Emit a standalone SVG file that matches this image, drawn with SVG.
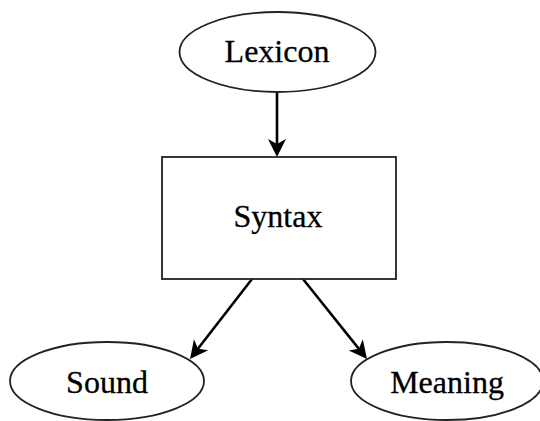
<svg xmlns="http://www.w3.org/2000/svg" width="540" height="421" viewBox="0 0 540 421">
  <style>
    .shape { fill: #ffffff; stroke: #222222; stroke-width: 1.8; }
    .label { font-family: "Liberation Serif", "Times New Roman", serif; font-size: 32px; fill: #000000; stroke: #000000; stroke-width: 0.3; text-anchor: middle; }
    .edge { stroke: #000000; stroke-width: 2.6; fill: none; marker-end: url(#arrow); }
  </style>
  <defs>
    <marker id="arrow" markerUnits="userSpaceOnUse" markerWidth="24" markerHeight="24" viewBox="-2 -12 24 24" refX="14" refY="0" orient="auto">
      <path d="M18,0 L0,-9 L5,0 L0,9 Z" fill="#000000"/>
    </marker>
  </defs>
  <rect width="540" height="421" fill="#ffffff"/>

  <g id="connectors">
    <line class="edge" x1="277" y1="93" x2="277" y2="153"/>
    <line class="edge" x1="252" y1="279" x2="192.5" y2="355.8"/>
    <line class="edge" x1="303" y1="279" x2="364.5" y2="355.9"/>
  </g>

  <g id="lexicon">
    <ellipse class="shape" cx="277.5" cy="52" rx="98" ry="40"/>
    <text class="label" x="277" y="62">Lexicon</text>
  </g>

  <g id="syntax">
    <rect class="shape" x="162" y="157" width="234" height="122"/>
    <text class="label" x="278" y="227">Syntax</text>
  </g>

  <g id="sound">
    <ellipse class="shape" cx="107" cy="381" rx="97" ry="39"/>
    <text class="label" x="107" y="393">Sound</text>
  </g>

  <g id="meaning">
    <ellipse class="shape" cx="447" cy="381" rx="96" ry="39"/>
    <text class="label" x="447" y="393">Meaning</text>
  </g>
</svg>
